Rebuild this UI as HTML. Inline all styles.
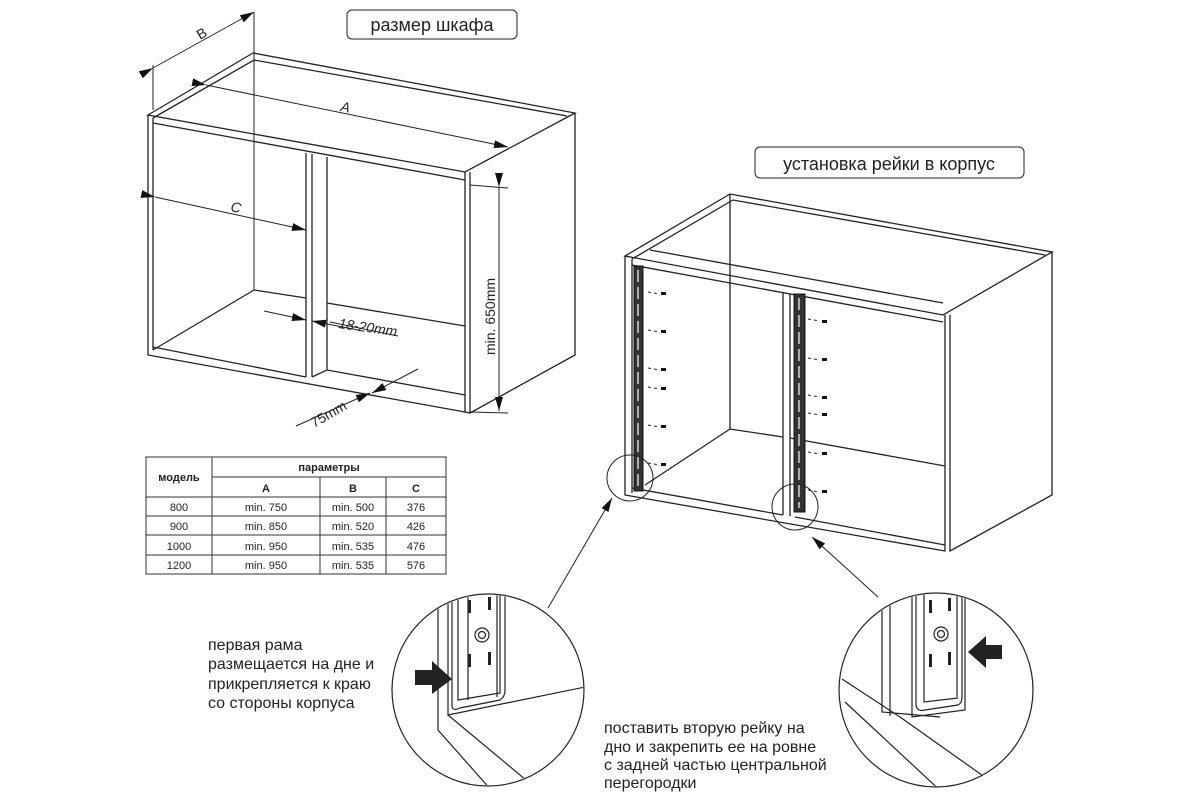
<!DOCTYPE html>
<html><head><meta charset="utf-8"><style>
html,body{margin:0;padding:0;background:#fff;}
svg{display:block}
text{font-family:"Liberation Sans","DejaVu Sans",sans-serif;fill:#222}
</style></head><body>
<svg width="1200" height="800" viewBox="0 0 1200 800" xmlns="http://www.w3.org/2000/svg">
<defs>
<marker id="ar2" markerWidth="14" markerHeight="8" refX="14" refY="4" orient="auto" markerUnits="userSpaceOnUse"><path d="M0,0 L14,4 L0,8 z" fill="#111"/></marker>
<clipPath id="c1"><circle cx="488" cy="690" r="95"/></clipPath>
<clipPath id="c2"><circle cx="936" cy="690" r="96"/></clipPath>
</defs>
<g fill="none" stroke="#222" stroke-width="1.3">
<!-- LEFT CABINET -->
<rect x="347" y="10" width="170" height="29" rx="5" stroke-width="1"/>
<path d="M148,115 L253,53 L575,113 L465,172 L148,115 Z"/>
<path d="M153,118 L254,60 L567,116"/>
<path d="M148,115 L148,355 L465,412 L465,172"/>
<path d="M153,118 L153,350"/>
<path d="M153,123 L465,180"/>
<path d="M470,172 L470,413 L575,355 L575,113"/>
<path d="M465,412 L470,413"/>
<path d="M254,12 L254,290" stroke-width="1"/>
<path d="M153,350 L254,290 L306,298"/>
<path d="M327,303 L465,326"/>
<path d="M153,347 L306,377"/>
<path d="M306,153 L306,377 M312,154 L312,377 M327,157 L327,370 M312,377 L327,370 L465,395"/>
<!-- dims -->
<path d="M153,110 L153,65" stroke-width="1"/>
<path d="M153,68 L254,12" marker-start="url(#ar2)" marker-end="url(#ar2)" stroke-width="1"/>
<path d="M206,85 L508,147" marker-start="url(#ar2)" marker-end="url(#ar2)" stroke-width="1"/>
<path d="M155,197 L306,230" marker-start="url(#ar2)" marker-end="url(#ar2)" stroke-width="1"/>
<path d="M470,185 L508,188 M470,412 L508,413" stroke-width="1"/>
<path d="M499,187 L499,411" marker-start="url(#ar2)" marker-end="url(#ar2)" stroke-width="1"/>
<path d="M264,311 L306,320" marker-end="url(#ar2)" stroke-width="1"/>
<path d="M358,330 L312,321" marker-end="url(#ar2)" stroke-width="1"/>
<path d="M330,322 L398,336" stroke-width="1"/>
<path d="M296,426 L370,393" marker-end="url(#ar2)" stroke-width="1"/>
<path d="M418,369 L372,393" marker-end="url(#ar2)" stroke-width="1"/>
<!-- RIGHT CABINET -->
<rect x="755" y="147" width="269" height="31" rx="5" stroke-width="1"/>
<path d="M625,256 L730,194 L1052,252 L943,315 Z"/>
<path d="M632,259 L733,200 L1045,255"/>
<path d="M625,256 L625,495 L945,551 L945,315"/>
<path d="M632,259 L632,493"/>
<path d="M632,265 L943,322"/>
<path d="M650,250 L943,303"/>
<path d="M950,315 L950,551 L1052,495 L1052,252"/>
<path d="M730,194 L730,429"/>
<path d="M645,485 L730,429 L783,437"/>
<path d="M790,438 L945,466"/>
<path d="M632,488 L783,515 M795,517 L945,545"/>
<path d="M783,293 L783,515 M790,294 L790,516"/>
</g>
<!-- rails -->
<g fill="#333" stroke="#111">
<rect x="634" y="266" width="9" height="225"/>
<rect x="794" y="294" width="11" height="218"/>
</g>
<g stroke="#fff" stroke-width="1.2" stroke-dasharray="12 5">
<path d="M638,270 L638,488"/><path d="M799,298 L799,508"/>
</g>
<g stroke="#222" stroke-width="1" fill="none">
<path d="M648,292 L660,294 M648,330 L660,332 M648,368 L660,370 M648,387 L660,389 M648,425 L660,427 M648,463 L660,465" stroke-dasharray="3 3"/>
<path d="M808,319 L820,321 M808,358 L820,360 M808,395 L820,397 M808,413 L820,415 M808,452 L820,454 M808,490 L820,492" stroke-dasharray="3 3"/>
</g>
<g fill="#111">
<rect x="661" y="292" width="5" height="3"/><rect x="661" y="330" width="5" height="3"/><rect x="661" y="368" width="5" height="3"/><rect x="661" y="387" width="5" height="3"/><rect x="661" y="425" width="5" height="3"/><rect x="661" y="463" width="5" height="3"/>
<rect x="822" y="320" width="5" height="3"/><rect x="822" y="358" width="5" height="3"/><rect x="822" y="396" width="5" height="3"/><rect x="822" y="413" width="5" height="3"/><rect x="822" y="452" width="5" height="3"/><rect x="822" y="490" width="5" height="3"/>
</g>
<g fill="none" stroke="#222" stroke-width="1">
<circle cx="630" cy="478" r="23"/>
<circle cx="795" cy="507" r="23"/>
<path d="M548,608 L612,498" marker-end="url(#ar2)"/>
<path d="M878,597 L812,537" marker-end="url(#ar2)"/>
</g>
<!-- detail 1 -->
<g clip-path="url(#c1)">
<g fill="none" stroke="#222" stroke-width="1.2">
<path d="M438,590 L438,730 L500,800"/>
<path d="M448,590 L448,715 L590,686"/>
<path d="M448,715 L550,800"/>
<path d="M452,590 L452,705 Q452,712 460,708 L500,700 Q505,697 505,690 L505,590"/>
<path d="M458,590 L458,700 L500,693 L500,590"/>
<path d="M468,590 L468,700 M497,590 L497,697"/>
<circle cx="482" cy="635" r="7"/><circle cx="482" cy="635" r="3.5"/>
</g>
<g fill="#222">
<rect x="468" y="600" width="3" height="13"/><rect x="488" y="597" width="3" height="13"/>
<rect x="468" y="654" width="3" height="13"/><rect x="488" y="652" width="3" height="13"/>
<path d="M415,670 L432,670 L432,661 L452,679 L432,694 L432,685 L415,685 Z"/>
</g>
</g>
<circle cx="488" cy="690" r="96" fill="none" stroke="#222" stroke-width="1.2"/>
<!-- detail 2 -->
<g clip-path="url(#c2)">
<g fill="none" stroke="#222" stroke-width="1.2">
<path d="M882,590 L882,712 L940,717"/>
<path d="M890,590 L890,716 M912,580 L912,717 L965,710 L965,580"/>
<path d="M916,580 L916,705 Q917,712 925,710 L958,705 Q962,703 962,697 L962,580"/>
<path d="M924,580 L924,702 L958,698 M957,580 L957,697"/>
<path d="M842,679 L900,717 L1010,795"/>
<path d="M845,702 L945,795"/>
<circle cx="941" cy="634" r="7"/><circle cx="941" cy="634" r="3.5"/>
</g>
<g fill="#222">
<rect x="929" y="600" width="3" height="13"/><rect x="948" y="598" width="3" height="13"/>
<rect x="929" y="654" width="3" height="13"/><rect x="948" y="652" width="3" height="13"/>
<path d="M1002,645 L986,645 L986,636 L968,652 L986,668 L986,659 L1002,659 Z"/>
</g>
</g>
<circle cx="936" cy="690" r="97" fill="none" stroke="#222" stroke-width="1.2"/>
<!-- texts -->
<text x="432" y="31" font-size="18" text-anchor="middle">размер шкафа</text>
<text x="889" y="170" font-size="18" text-anchor="middle">установка рейки в корпус</text>
<text x="200" y="40" font-size="14" transform="rotate(-30 200 40)">B</text>
<text x="340" y="111" font-size="14" transform="rotate(10 340 111)" font-style="italic">A</text>
<text x="230" y="211" font-size="14" transform="rotate(12 230 211)" font-style="italic">C</text>
<text x="338" y="328" font-size="14" transform="rotate(8 338 328)" font-style="italic">18-20mm</text>
<text x="314" y="428" font-size="14" transform="rotate(-30 314 428)">75mm</text>
<text x="495" y="355" font-size="14" transform="rotate(-90 495 355)">min. 650mm</text>
<g font-size="16" fill="#333">
<text x="208" y="650">первая рама</text>
<text x="208" y="669">размещается на дне и</text>
<text x="208" y="689">прикрепляется к краю</text>
<text x="208" y="708">со стороны корпуса</text>
<text x="604" y="733">поставить вторую рейку на</text>
<text x="604" y="752">дно и закрепить ее на ровне</text>
<text x="604" y="770">с задней частью центральной</text>
<text x="604" y="788">перегородки</text>
</g>
<!-- table -->
<g stroke="#333" stroke-width="1" fill="none">
<rect x="146" y="457" width="300" height="117"/>
<path d="M212,457 L212,574 M212,477 L446,477 M320,477 L320,574 M386,477 L386,574"/>
<path d="M146,497 L446,497 M146,516 L446,516 M146,535 L446,535 M146,555 L446,555"/>
</g>
<g font-size="11" text-anchor="middle" fill="#222">
<text x="179" y="481" font-weight="bold">модель</text>
<text x="329" y="471" font-weight="bold">параметры</text>
<text x="266" y="492" font-weight="bold">A</text><text x="353" y="492" font-weight="bold">B</text><text x="416" y="492" font-weight="bold">C</text>
<text x="179" y="511">800</text><text x="266" y="511">min. 750</text><text x="353" y="511">min. 500</text><text x="416" y="511">376</text>
<text x="179" y="530">900</text><text x="266" y="530">min. 850</text><text x="353" y="530">min. 520</text><text x="416" y="530">426</text>
<text x="179" y="550">1000</text><text x="266" y="550">min. 950</text><text x="353" y="550">min. 535</text><text x="416" y="550">476</text>
<text x="179" y="569">1200</text><text x="266" y="569">min. 950</text><text x="353" y="569">min. 535</text><text x="416" y="569">576</text>
</g>
</svg>
</body></html>
